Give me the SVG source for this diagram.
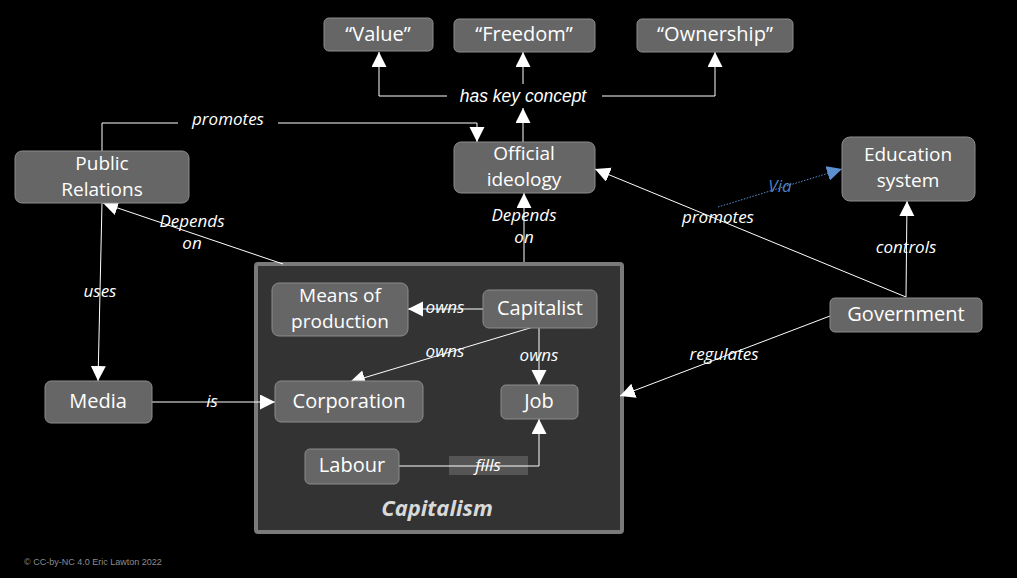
<svg xmlns="http://www.w3.org/2000/svg" width="1017" height="578" viewBox="0 0 1017 578">
<defs>
<marker id="ah" markerUnits="userSpaceOnUse" markerWidth="16" markerHeight="16" refX="15" refY="7.5" orient="auto" viewBox="0 0 16 16"><path d="M0,0 L15,7.5 L0,15 z" fill="#ffffff"/></marker>
<marker id="ahb" markerUnits="userSpaceOnUse" markerWidth="16" markerHeight="16" refX="15" refY="7.5" orient="auto" viewBox="0 0 16 16"><path d="M0,0 L15,7.5 L0,15 z" fill="#5b8fd0"/></marker>
<style>
.node rect{fill:#666666;stroke:#8c8c8c;stroke-width:1}
.node text{font-family:"Open Sans","Noto Sans",sans-serif;font-size:20px;fill:#ffffff;text-anchor:middle}
.node text.two{font-size:19px}
.c{stroke:#ffffff;stroke-width:1;fill:none}
.ca{stroke:#ffffff;stroke-width:1;fill:none;marker-end:url(#ah)}
.lbl{font-family:"Open Sans","Noto Sans",sans-serif;font-style:italic;font-size:17px;fill:#ffffff;text-anchor:middle}
</style>
</defs>
<rect x="0" y="0" width="1017" height="578" fill="#000000"/>
<g id="capitalism-box">
<rect x="256" y="264" width="366" height="268" fill="#333333" stroke="#7a7a7a" stroke-width="4" rx="2"/>
<text x="437" y="516" font-family="'Open Sans','Noto Sans',sans-serif" font-size="22" font-weight="bold" font-style="italic" fill="#d9d9d9" text-anchor="middle">Capitalism</text>
</g>
<g id="connectors">
<polyline class="c" points="447,96 379,96"/>
<line class="ca" x1="379" y1="96" x2="379" y2="52"/>
<line class="ca" x1="523" y1="84" x2="523" y2="52"/>
<polyline class="c" points="602,96 715,96"/>
<line class="ca" x1="715" y1="96" x2="715" y2="52"/>
<line class="ca" x1="523" y1="142" x2="523" y2="108"/>
<polyline class="c" points="102,151 102,123 178,123"/>
<polyline class="ca" points="278,123 477,123 477,142"/>
<line class="ca" x1="102" y1="203" x2="98" y2="381"/>
<line class="ca" x1="283" y1="264" x2="103" y2="203"/>
<line class="ca" x1="152" y1="402" x2="275" y2="402"/>
<line class="ca" x1="524" y1="262" x2="524" y2="193"/>
<line class="ca" x1="483" y1="309" x2="408" y2="309"/>
<line class="ca" x1="540" y1="325" x2="350" y2="382"/>
<line class="ca" x1="539" y1="328" x2="539" y2="385"/>
<rect x="449" y="456" width="79" height="19" fill="#555555"/>
<polyline class="ca" points="399,466 539,466 539,419"/>
<line class="ca" x1="906" y1="297" x2="595" y2="169"/>
<line class="ca" x1="906" y1="297" x2="907" y2="201"/>
<line x1="718" y1="207" x2="842" y2="169" stroke="#5b8fd0" stroke-width="1" stroke-dasharray="1.5,1.5" marker-end="url(#ahb)"/>
<line class="ca" x1="830" y1="316" x2="620" y2="396"/>
<text class="lbl" x="523" y="102" style="font-family:'Liberation Sans',Arial,sans-serif;font-size:17.5px">has key concept</text>
<text class="lbl" x="228" y="125">promotes</text>
<text class="lbl" x="192" y="227">Depends</text>
<text class="lbl" x="192" y="249">on</text>
<text class="lbl" x="100" y="297">uses</text>
<text class="lbl" x="212" y="407">is</text>
<text class="lbl" x="524" y="221">Depends</text>
<text class="lbl" x="524" y="243">on</text>
<text class="lbl" x="445" y="313">owns</text>
<text class="lbl" x="445" y="357">owns</text>
<text class="lbl" x="539" y="361">owns</text>
<text class="lbl" x="488" y="471">fills</text>
<text class="lbl" x="718" y="223">promotes</text>
<text class="lbl" x="780" y="192" style="fill:#4f7fc0">Via</text>
<text class="lbl" x="906" y="253">controls</text>
<text class="lbl" x="724" y="360">regulates</text>
</g>
<g id="value" class="node"><rect x="324" y="18" width="109" height="33" rx="5"/><text x="378" y="41">“Value”</text></g>
<g id="freedom" class="node"><rect x="454" y="19" width="141" height="33" rx="5"/><text x="524" y="41">“Freedom”</text></g>
<g id="ownership" class="node"><rect x="637" y="19" width="156" height="33" rx="5"/><text x="715" y="41">“Ownership”</text></g>
<g id="official-ideology" class="node"><rect x="454" y="142" width="141" height="51" rx="7"/><text class="two" x="524" y="160">Official</text><text class="two" x="524" y="186">ideology</text></g>
<g id="public-relations" class="node"><rect x="15" y="151" width="174" height="52" rx="7"/><text class="two" x="102" y="170">Public</text><text class="two" x="102" y="196">Relations</text></g>
<g id="media" class="node"><rect x="45" y="381" width="107" height="42" rx="6"/><text x="98" y="408">Media</text></g>
<g id="education-system" class="node"><rect x="842" y="137" width="133" height="64" rx="8"/><text class="two" x="908" y="161">Education</text><text class="two" x="908" y="187">system</text></g>
<g id="government" class="node"><rect x="830" y="298" width="152" height="34" rx="5"/><text x="906" y="321">Government</text></g>
<g id="means-of-production" class="node"><rect x="272" y="283" width="136" height="53" rx="7"/><text class="two" x="340" y="302">Means of</text><text class="two" x="340" y="328">production</text></g>
<g id="capitalist" class="node"><rect x="483" y="290" width="114" height="38" rx="6"/><text x="540" y="315">Capitalist</text></g>
<g id="corporation" class="node"><rect x="275" y="381" width="148" height="41" rx="6"/><text x="349" y="408">Corporation</text></g>
<g id="job" class="node"><rect x="501" y="385" width="77" height="34" rx="5"/><text x="539" y="408">Job</text></g>
<g id="labour" class="node"><rect x="305" y="449" width="94" height="35" rx="5"/><text x="352" y="472">Labour</text></g>
<text x="24" y="565" font-family="'Liberation Sans',Arial,sans-serif" font-size="9" fill="#8c8c8c">© CC-by-NC 4.0 Eric Lawton 2022</text>
</svg>
